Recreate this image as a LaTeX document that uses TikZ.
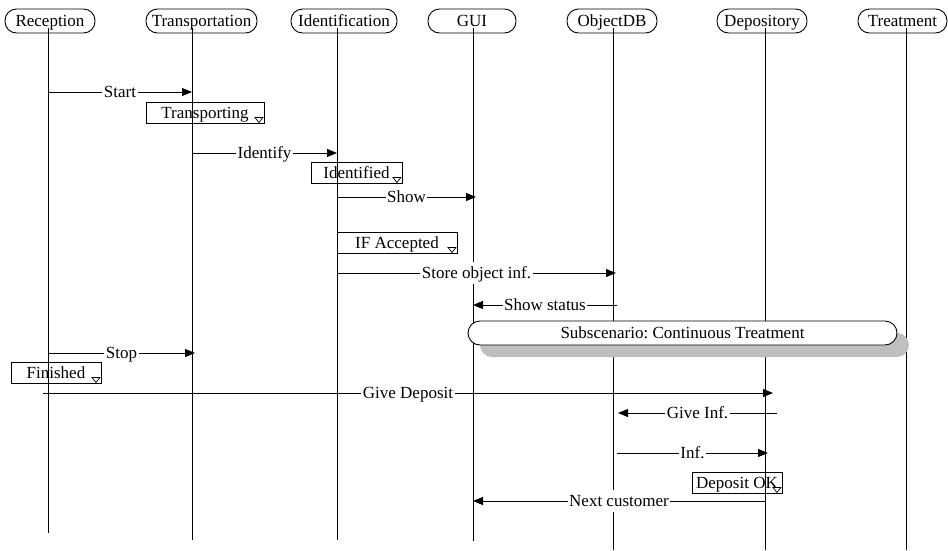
\documentclass[tikz,border=0pt]{standalone}
\usepackage{fontspec}
\setmainfont{Liberation Serif}
\usetikzlibrary{arrows.meta,shadows}
\frenchspacing
\begin{document}
\begin{tikzpicture}[x=1pt,y=-1pt,
  font=\fontsize{17}{19}\selectfont,
  every node/.style={text height=11.3pt, text depth=0pt},
  lane/.style={draw, rounded corners=11.5pt, minimum height=24pt, inner sep=0pt, line width=0.9pt},
  life/.style={line width=0.9pt},
  msg/.style={line width=0.9pt, -{Triangle[length=10pt,width=8pt]}},
  lbl/.style={fill=white, inner xsep=1.5pt, inner ysep=5pt},
  act/.style={draw, minimum height=21pt, inner sep=0pt, line width=0.9pt},
  tri/.pic={\draw[line width=0.7pt] (-4,0) -- (4,0) -- (0,5) -- cycle;}]
\useasboundingbox (0,0) rectangle (948,550);

% participants
\node[lane, minimum width=90pt]  (rec) at (50,21)    {Reception};
\node[lane, minimum width=111pt] (tra) at (201.5,21) {Transportation};
\node[lane, minimum width=106pt] (ide) at (344,21)   {Identification};
\node[lane, minimum width=88pt]  (gui) at (472,21)   {GUI};
\node[lane, minimum width=90pt]  (odb) at (612,21)   {ObjectDB};
\node[lane, minimum width=90pt]  (dep) at (762,21)   {Depository};
\node[lane, minimum width=89pt]  (trt) at (902.5,21) {Treatment};

% lifeline anchors
\coordinate (recT) at (48,28);
\coordinate (traT) at (192,28);
\coordinate (ideT) at (337,28);
\coordinate (guiT) at (473,28);
\coordinate (odbT) at (613,28);
\coordinate (depT) at (765,28);
\coordinate (trtT) at (906,28);

% lifelines
\draw[life] (recT) -- (recT |- 0,533);
\draw[life] (traT) -- (traT |- 0,540);
\draw[life] (ideT) -- (ideT |- 0,540);
\draw[life] (guiT) -- (guiT |- 0,541);
\draw[life] (odbT) -- (odbT |- 0,550);
\draw[life] (depT) -- (depT |- 0,550);
\draw[life] (trtT) -- (trtT |- 0,550);

% activity boxes
\node[act, minimum width=118pt] (a1) at (205,112.5)   {Transporting};
\node[act, minimum width=91pt]  (a2) at (356.5,172.5) {Identified};
\node[act, minimum width=120pt] (a3) at (397,242.5)   {IF Accepted};
\node[act, minimum width=90pt]  (a4) at (56,372.5)    {Finished};
\node[act, minimum width=90pt]  (a5) at (737,482.5)   {Deposit OK};
\foreach \b in {a1,a2,a3,a4,a5}
  \pic at ([shift={(-5.5,-6)}]\b.south east) {tri};

% messages
\draw[msg] (recT |- 0,92)  -- node[lbl]{Start} (traT |- 0,92);
\draw[msg] (traT |- 0,153) -- node[lbl]{Identify} (ideT |- 0,153);
\draw[msg] (ideT |- 0,197) -- node[lbl]{Show} ([xshift=3pt]guiT |- 0,197);
\draw[msg] (ideT |- 0,273) -- node[lbl]{Store object inf.} ([xshift=3pt]odbT |- 0,273);
\draw[msg] ([xshift=4pt]odbT |- 0,305) -- node[lbl]{Show status} (guiT |- 0,305);
\draw[msg] (recT |- 0,353) -- node[lbl]{Stop} ([xshift=3pt]traT |- 0,353);
\draw[msg] ([xshift=-5pt]recT |- 0,393) -- node[lbl]{Give Deposit} ([xshift=8pt]depT |- 0,393);
\draw[msg] ([xshift=12pt]depT |- 0,413) -- node[lbl]{Give Inf.} ([xshift=5pt]odbT |- 0,413);
\draw[msg] ([xshift=4pt]odbT |- 0,453) -- node[lbl]{Inf.} ([xshift=3pt]depT |- 0,453);
\draw[msg] (depT |- 0,501) -- node[lbl]{Next customer} (guiT |- 0,501);

% sub-scenario reference
\node[draw, fill=white, rounded corners=12pt, minimum width=429pt, minimum height=24pt,
      inner sep=0pt, line width=0.9pt,
      drop shadow={shadow xshift=12pt, shadow yshift=-12pt, fill=black!25, opacity=1}]
  (sub) at (682.5,333) {Subscenario: Continuous Treatment};
\end{tikzpicture}
\end{document}
